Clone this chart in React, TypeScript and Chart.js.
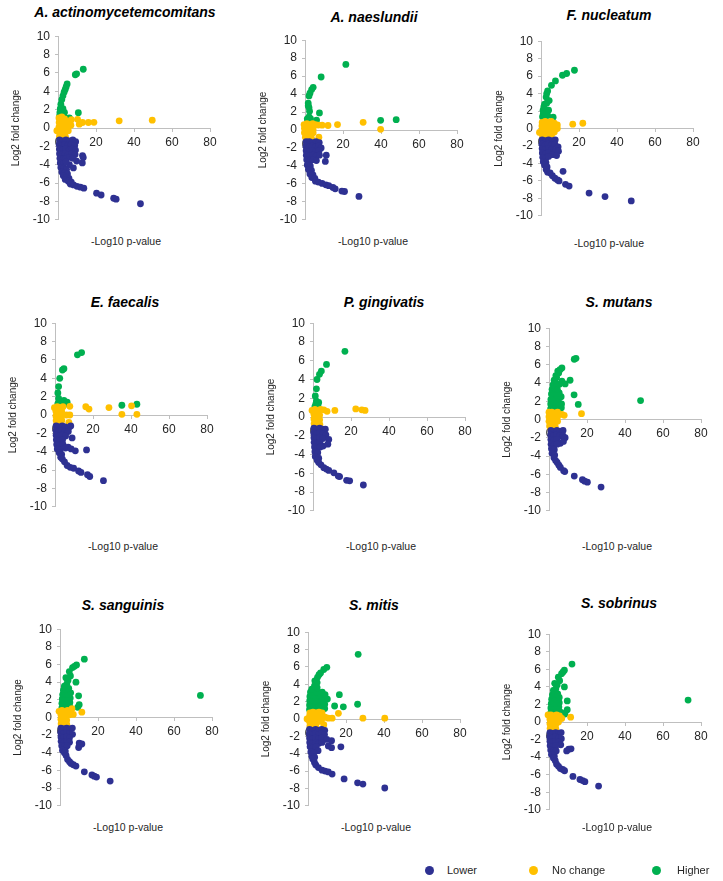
import React, { useEffect, useRef } from 'react';
import { Chart, registerables } from 'chart.js';

Chart.register(...registerables);

type Pt = [number, number];

// ---------- DATA ----------
const speciesNames = [
  'A. actinomycetemcomitans', 'A. naeslundii', 'F. nucleatum',
  'E. faecalis', 'P. gingivatis', 'S. mutans',
  'S. sanguinis', 'S. mitis', 'S. sobrinus',
];
const seriesNames = ['Lower', 'No change', 'Higher'];
const xTickValues = [0, 20, 40, 60, 80];
const yTickValues = [-10, -8, -6, -4, -2, 0, 2, 4, 6, 8, 10];
const xAxisTitle = '-Log10 p-value';
const yAxisTitle = 'Log2 fold change';

// A. actinomycetemcomitans
const aaLower: Pt[] = [
  [0.8,-1.3],[2.5,-1.4],[4.2,-1.3],[6,-1.4],[7.8,-1.3],[9.3,-1.5],
  [0.6,-1.8],[2,-1.9],[3.6,-1.8],[5.2,-1.9],[7,-1.8],[8.8,-1.9],
  [0.7,-2.3],[2.4,-2.4],[4,-2.3],[5.8,-2.4],[7.5,-2.3],[9.2,-2.4],
  [0.8,-2.8],[2.2,-2.9],[3.8,-2.8],[5.4,-2.9],[7.2,-2.8],[9,-2.9],
  [1,-3.3],[2.6,-3.4],[4.2,-3.3],[6,-3.2],[7.8,-3.3],
  [12.9,-3.0],[13.3,-3.2],[12.8,-3.8],[9.8,-3.6],[6,-4],[8.1,-4.35],
  [1.2,-3.8],[2.8,-3.9],[4.2,-3.7],[1.5,-4.3],[3,-4.4],[4.5,-4.5],[2,-4.8],[3.6,-4.9],[5,-5],
  [2.8,-5.2],[4.3,-5.4],[5.8,-5.5],[3.8,-5.6],[5.4,-5.8],[7,-5.9],[6.5,-6.1],[8.2,-6.2],
  [10,-6.35],[11.8,-6.45],[13.6,-6.55],
  [20.3,-7.1],[22.7,-7.3],[29.3,-7.65],[30.6,-7.75],[43.4,-8.25],
];
const aaNoChange: Pt[] = [
  [-0.6,-0.3],[0.5,1.1],[2,1.2],[3.5,1.0],[0.6,0.6],[2.2,0.6],[3.8,0.5],[5.4,0.7],[7,0.9],
  [0.5,0.1],[2,0.1],[3.6,0],[5.2,0.2],[6.8,0.3],[0.6,-0.4],[2.2,-0.4],[3.8,-0.5],[5.4,-0.3],
  [0.8,-0.9],[2.4,-0.9],[4,-1],[1.5,-1.2],
  [10.3,0.95],[11.2,0.42],[12.9,0.6],[16,0.6],[18.9,0.62],[32.2,0.78],[49.6,0.85],
];
const aaHigher: Pt[] = [
  [0.8,1.3],[1.8,1.2],[3,1.3],[6,1.1],[1,1.7],[2.2,1.6],[3.4,1.7],[1.2,2.1],[2.6,2.1],
  [1.5,2.6],[2,3.1],[2.6,3.5],[3.2,3.9],[3.8,4.2],[4.3,4.5],[4.8,4.8],
  [9.1,5.8],[9.8,5.9],[13.3,6.4],[10.7,1.66],
];

// A. naeslundii
const anLower: Pt[] = [
  [0.6,-1.3],[2.3,-1.3],[4,-1.4],[5.8,-1.3],[7.5,-1.4],
  [0.5,-1.8],[2.1,-1.9],[3.8,-1.8],[5.5,-1.9],[7.2,-1.8],[8.5,-2],
  [0.6,-2.3],[2.3,-2.4],[4,-2.3],[5.7,-2.4],[7.4,-2.3],
  [0.7,-2.8],[2.4,-2.9],[4.1,-2.8],[5.8,-2.9],[7.6,-2.8],[11.2,-2.8],
  [0.9,-3.3],[2.6,-3.4],[4.3,-3.3],[6,-3.4],[10.7,-3.5],
  [1.2,-3.9],[2.8,-4],[1.8,-4.4],[3.4,-4.5],[2.6,-4.9],[4.2,-5],[3.6,-5.3],[5.2,-5.4],
  [5.5,-5.7],[7,-5.8],[9,-5.95],[11,-6.1],[12.5,-6.2],[14.7,-6.4],[15.9,-6.55],
  [19.4,-6.8],[20.8,-6.85],[28.4,-7.4],
];
const anNoChange: Pt[] = [
  [-0.5,0.6],[1,0.7],[2.5,0.6],[4,0.7],[5.5,0.6],[7,0.55],[9,0.54],[12.1,0.5],[17.1,0.6],
  [30.6,0.86],[39.8,0.07],
  [-0.3,0.2],[1.2,0.1],[2.8,0.2],[4.3,0.1],[-0.3,-0.3],[1.2,-0.3],[2.8,-0.4],[4.3,-0.3],
  [0.2,-0.8],[1.8,-0.8],[3.4,-0.9],[7.3,-0.8],[1,-1.1],
];
const anHigher: Pt[] = [
  [1.2,1.25],[2.1,1.45],[2.9,1.26],[1.5,1.1],[6.1,1.1],[7.6,1.9],[2.4,2.1],[2.1,2.5],
  [1.7,3.0],[1.7,2.7],[2.1,3.8],[2.6,4.1],[3.5,4.5],[4.3,4.75],[8.5,5.9],[21.5,7.3],
  [39.8,1.08],[48,1.15],
];

// F. nucleatum
const fnLower: Pt[] = [
  [0.6,-1.3],[2.3,-1.4],[4,-1.3],[5.8,-1.4],[7.5,-1.3],
  [0.5,-1.8],[2.1,-1.9],[3.8,-1.8],[5.5,-1.9],[7.3,-1.8],[9,-2.1],
  [0.6,-2.3],[2.3,-2.4],[4,-2.3],[5.7,-2.4],[7.6,-2.5],[9.2,-2.6],
  [0.7,-2.8],[2.4,-2.9],[4.1,-2.8],[6,-3],[8.2,-3.1],
  [0.9,-3.3],[2.5,-3.4],[4,-3.2],
  [1.2,-3.8],[2.6,-3.9],[1.9,-4.2],[3.2,-4.4],[2.7,-4.7],[3.5,-5],[4.8,-5.1],[6,-5.4],
  [7.3,-5.7],[8.7,-5.9],[9.5,-6.0],[11.6,-4.9],[12.9,-6.4],[14.8,-6.6],
  [25.3,-7.4],[33.7,-7.8],[47.5,-8.3],
];
const fnNoChange: Pt[] = [
  [-0.8,-0.45],[0.6,0.7],[2.2,0.8],[3.8,0.7],[5.4,0.8],[7,0.6],[8.6,0.4],
  [0.5,0.3],[2,0.2],[3.6,0.3],[5.2,0.2],[6.8,0.1],[8.6,0],
  [0.6,-0.2],[2.2,-0.3],[3.8,-0.2],[5.4,-0.3],[7,-0.4],
  [0.8,-0.8],[2.4,-0.8],[4,-0.9],[5.6,-0.7],[1.5,-1.1],
  [16.7,0.5],[22,0.6],
];
const fnHigher: Pt[] = [
  [0.8,1.35],[2,1.2],[3.5,1.5],[6.4,1.3],[1.1,2.1],[2.5,2.0],[4,2.1],[1.5,2.5],[1.9,2.8],
  [3,2.9],[4.3,3.2],[2.7,3.6],[3.5,4.3],[3,4.0],[5.5,4.95],[7.6,5.45],[11.3,6.1],[13.5,6.3],
  [17.6,6.67],[1.2,1.7],[2.8,1.6],
];

// E. faecalis
const efLower: Pt[] = [
  [0.6,-1.2],[2.2,-1.3],[3.8,-1.2],[5.4,-1.3],[7.2,-1.4],[8.3,-1.2],
  [0.5,-1.7],[2,-1.8],[3.6,-1.7],[5.2,-1.8],[7,-1.8],
  [0.6,-2.2],[2.2,-2.3],[3.8,-2.2],[5.6,-2.3],[9,-2.5],
  [0.7,-2.7],[2.3,-2.8],[4,-2.7],[0.9,-3.2],[2.5,-3.3],[4.2,-3.2],[6.9,-3.5],[10.7,-3.9],
  [16.6,-3.8],[5.5,-3.6],[8.5,-3.7],
  [1.2,-3.7],[2.6,-3.8],[2.2,-4.1],[3.5,-4.3],[3,-4.6],[3.9,-4.8],[5,-5.1],[6.4,-5.5],
  [8,-5.7],[9.8,-5.8],[12.4,-6.1],[13.7,-6.25],[17.1,-6.5],[18.3,-6.7],[25.5,-7.15],
];
const efNoChange: Pt[] = [
  [-0.3,0.8],[1.2,0.9],[2.7,0.8],[4.2,0.9],[7.8,0.95],[0.5,0.4],[2,0.3],[3.5,0.4],
  [0.5,-0.1],[2,0],[3.5,-0.1],[6.1,0],[7.8,0],[0.6,-0.6],[2.1,-0.5],[3.6,-0.6],[1,-1],
  [7.3,-0.8],[16.2,0.9],[17.9,0.64],[28.4,0.81],[40.3,1.0],[35.2,0.07],[43.1,0.07],
];
const efHigher: Pt[] = [
  [1.5,1.25],[3.9,1.2],[4.7,1.6],[6.4,1.4],[5.5,1.2],[2.5,1.5],[1.9,1.8],[1.5,2.4],
  [1.9,3.1],[2.5,4.0],[3.9,4.9],[4.7,5.05],[11.8,6.55],[14,6.8],[35.2,1.06],[43.1,1.17],
];

// P. gingivatis
const pgLower: Pt[] = [
  [0.5,-1.2],[2,-1.3],[3.5,-1.2],[5,-1.3],[6.5,-1.3],
  [0.4,-1.7],[1.9,-1.8],[3.4,-1.7],[5,-1.8],[6.8,-1.9],
  [0.5,-2.2],[2,-2.3],[3.5,-2.2],[5.2,-2.3],[8.3,-2.4],
  [0.6,-2.7],[2.1,-2.8],[3.6,-2.7],[5.3,-3.1],[7.8,-2.9],
  [0.8,-3.2],[2.3,-3.3],[3.8,-3.2],
  [1,-3.7],[2.5,-3.8],[1.2,-4.2],[3,-4.4],[2.2,-4.6],[3,-4.85],[4.2,-5.1],[5.7,-5.4],
  [7,-5.55],[8.3,-5.7],[11,-5.95],[13.3,-6.3],[14,-6.35],[17.7,-6.75],[19.3,-6.8],[26.5,-7.25],
];
const pgNoChange: Pt[] = [
  [-0.5,0.7],[1,0.8],[2.5,0.7],[4,0.8],[5.7,0.76],[7.4,0.6],[11.5,0.7],[22.5,0.86],
  [25.7,0.76],[27.4,0.7],
  [0.5,0.3],[2,0.3],[3.5,0.2],[0.5,-0.2],[2,-0.2],[3.5,-0.3],[0.6,-0.7],[2.1,-0.7],
  [3.6,-0.8],[1,-1.1],[2.6,-1.1],
];
const pgHigher: Pt[] = [
  [1,1.1],[2.1,1.2],[3,1.55],[1.8,1.7],[1.2,2.25],[1.5,1.4],[1.8,3.0],[2.1,4.0],[3.4,4.55],
  [4.4,4.9],[7.1,5.6],[16.8,7.0],[2.6,1.2],
];

// S. mutans
const smLower: Pt[] = [
  [1,-1.2],[2.6,-1.3],[4.2,-1.2],[5.8,-1.3],[7.4,-1.2],
  [0.9,-1.7],[2.5,-1.8],[4.1,-1.7],[5.7,-1.8],[7.4,-1.8],[8.5,-2],
  [1,-2.2],[2.6,-2.3],[4.2,-2.2],[6,-2.6],[7.6,-2.4],
  [1.1,-2.7],[2.7,-2.8],[4.3,-2.7],[1.3,-3.2],[2.8,-3.3],
  [1.6,-3.7],[3,-3.9],[2.6,-4.2],[3.5,-4.5],[4.3,-4.7],[5.2,-5],[6,-5.25],[7.7,-5.6],
  [8.3,-5.7],[13.3,-6.2],[17.6,-6.6],[18.8,-6.75],[20.2,-6.86],[27.4,-7.4],
];
const smNoChange: Pt[] = [
  [0,0.8],[1.5,0.8],[3,0.7],[4.5,0.8],[6.8,0.57],[8,0.46],[17.1,0.64],[0,0.3],[1.5,0.3],
  [3,0.2],[4.5,0.3],[0,-0.2],[1.5,-0.2],[3,-0.3],[4.5,-0.2],[0.3,-0.7],[1.8,-0.7],
  [3.3,-0.8],[1,-1.1],[2.5,-1.1],
];
const smHigher: Pt[] = [
  [0.9,1.2],[2.3,1.1],[3.7,1.2],[5.1,1.1],[6.5,1.3],
  [0.9,1.7],[2.3,1.8],[3.7,1.7],[5.1,1.8],[6.6,1.7],
  [1,2.2],[2.4,2.3],[3.8,2.2],[5.2,2.3],[6.4,2.5],
  [1.3,2.8],[2.6,2.9],[4,2.8],[5.4,2.9],
  [1.6,3.3],[3,3.4],[4.4,3.3],[5.5,3.86],
  [2.1,3.8],[3.4,4.0],[2.7,4.3],[4,4.6],[3.6,4.8],[5.1,5.1],[4.6,5.3],[5.8,5.45],[6.8,5.65],
  [6.8,4.2],[8.5,3.9],[11.1,4.3],[13.2,2.7],[15.4,1.65],[13.3,6.6],[14.2,6.7],[48.2,2.07],
];

// S. sanguinis
const ssLower: Pt[] = [
  [0.5,-1.2],[2,-1.3],[3.5,-1.2],[5,-1.3],[6.5,-1.2],
  [0.4,-1.7],[1.9,-1.8],[3.4,-1.7],[5,-1.8],[6.6,-1.9],
  [0.5,-2.2],[2,-2.3],[3.5,-2.2],[5,-2.3],
  [0.6,-2.7],[2.1,-2.8],[3.6,-2.7],[5,-2.8],[10.1,-2.9],[11.5,-3.0],[9.8,-3.4],[10.4,-3.1],
  [0.9,-3.2],[2.4,-3.3],[3.8,-3.2],
  [1.3,-3.7],[2.8,-3.8],[2.3,-4.0],[3.2,-4.3],[4,-4.75],[5,-5],[5.8,-5.2],[7,-5.35],
  [8.4,-5.5],[12.8,-6.15],[16.8,-6.5],[18,-6.65],[19.2,-6.75],[26.4,-7.2],
];
const ssNoChange: Pt[] = [
  [-0.5,0.7],[1,0.8],[2.5,0.7],[4,0.8],[6.3,1.0],[0.5,0.3],[2,0.3],[3.5,0.2],[5,0.3],
  [7,0.35],[11.5,0.6],[0.5,-0.2],[2,-0.2],[3.5,-0.3],[0.6,-0.7],[2.1,-0.7],[3.6,-0.8],
  [1,-1.1],[2.5,-1.1],[5.5,0.6],
];
const ssHigher: Pt[] = [
  [1,1.1],[2.4,1.2],[3.8,1.1],[5.2,1.2],
  [1,1.6],[2.4,1.7],[3.8,1.6],[5.2,1.7],[9.3,1.15],[10.1,1.45],
  [1.2,2.1],[2.6,2.2],[4,2.1],[5.4,2.2],[9.8,2.45],
  [1.4,2.6],[2.8,2.7],[4.2,2.6],[5.6,2.8],
  [1.8,3.1],[3.2,3.2],[4.6,3.3],
  [2.3,3.55],[3.6,3.8],[3.1,4.5],[4.2,4.2],[4.9,5.2],[5.5,4.7],[6.6,5.65],[7.6,5.8],
  [8.7,5.95],[8.4,4.0],[12.8,6.6],[73.9,2.5],
];

// S. mitis
const miLower: Pt[] = [
  [0.8,-1.2],[2.4,-1.3],[4,-1.2],[5.6,-1.3],[7.2,-1.2],[8.8,-1.3],
  [0.7,-1.7],[2.3,-1.8],[3.9,-1.7],[5.5,-1.8],[7.1,-1.7],[8.7,-1.8],
  [0.8,-2.2],[2.4,-2.3],[4,-2.2],[5.6,-2.3],[7.2,-2.2],[9.9,-2.35],[12.4,-2.5],
  [0.9,-2.7],[2.5,-2.8],[4.1,-2.7],[5.7,-2.8],[7.4,-2.7],[10.7,-3.1],[12.4,-3.3],[17.3,-3.2],
  [1.1,-3.2],[2.7,-3.3],[4.3,-3.2],[5.3,-3.65],
  [1.5,-3.8],[3,-3.9],[2,-4.3],[3.5,-4.4],[2.5,-4.6],[3.4,-5],[4.1,-5.3],[5.5,-5.6],
  [7.4,-5.9],[9,-6],[10.7,-6.1],[12.7,-6.35],[19,-6.9],[26.1,-7.35],[28.9,-7.5],[40.4,-7.95],
];
const miNoChange: Pt[] = [
  [-0.5,0],[1,0.7],[2.6,0.8],[4.2,0.7],[5.8,0.8],[7.4,0.7],[0.8,0.3],[2.4,0.2],[4,0.3],
  [5.6,0.2],[7.2,0.1],[9,0.2],[10.7,0.1],[12.7,0.1],[0.8,-0.3],[2.4,-0.3],[4,-0.4],
  [5.6,-0.3],[7,-0.2],[1,-0.8],[2.6,-0.8],[4.2,-0.9],[8.3,-0.65],[1.8,-1.1],[16,0.65],
  [28.9,0.1],[40.4,0.1],
];
const miHigher: Pt[] = [
  [0.8,1.1],[2.4,1.2],[4,1.1],[5.6,1.2],[7.2,1.1],[8.8,1.2],
  [0.8,1.6],[2.4,1.7],[4,1.6],[5.6,1.7],[7.2,1.6],[8.8,1.7],
  [0.9,2.1],[2.5,2.2],[4.1,2.1],[5.7,2.2],[7.3,2.1],[10.2,2.3],
  [1,2.6],[2.6,2.7],[4.2,2.6],[5.8,2.7],[7.4,2.6],[9,2.8],
  [1.3,3.1],[2.8,3.2],[4.4,3.1],[6,3.0],[7.5,3.1],
  [2,3.45],[3.4,3.8],[4.8,3.6],[3.6,4.4],[4.8,4.2],[5,4.8],[5.8,5.1],[6.6,5.3],[8.3,5.7],
  [9.9,5.95],[16.5,2.8],[14,1.5],[18.6,1.4],[26.1,1.7],[26.4,7.45],
];

// S. sobrinus
const soLower: Pt[] = [
  [0.5,-1.2],[2,-1.3],[3.5,-1.2],[5,-1.3],[6.4,-1.2],
  [0.4,-1.7],[1.9,-1.8],[3.4,-1.7],[5,-1.8],[6.5,-1.9],
  [0.5,-2.2],[2,-2.3],[3.5,-2.2],[5,-2.3],[6.2,-2.6],
  [0.6,-2.7],[2.1,-2.8],[3.6,-2.7],[10.4,-3.1],[11.6,-3.05],[9.3,-3.3],
  [0.9,-3.2],[2.4,-3.3],[3.8,-3.3],
  [1.3,-3.7],[2.8,-3.9],[2.3,-4.1],[3.3,-4.4],[4,-4.8],[5,-5.05],[6,-5.3],[7.2,-5.4],
  [8.2,-5.55],[12.6,-6.2],[16.3,-6.55],[17.7,-6.67],[18.9,-6.8],[26.1,-7.3],
];
const soNoChange: Pt[] = [
  [-0.5,0.8],[1,0.8],[2.5,0.7],[4,0.8],[5.5,0.7],[0.5,0.3],[2,0.3],[3.5,0.2],[6.7,0.4],
  [11.4,0.55],[0.5,-0.2],[2,-0.2],[3.5,-0.3],[5,0],[0.6,-0.7],[2.1,-0.7],[3.6,-0.8],
  [1,-1.1],[2.5,-1.1],
];
const soHigher: Pt[] = [
  [1,1.1],[2.4,1.2],[3.8,1.1],[5.2,1.2],[6.4,1.1],
  [1,1.6],[2.4,1.7],[3.8,1.6],[5.2,1.7],[9.6,1.4],[8.4,0.9],
  [1.2,2.1],[2.6,2.2],[4,2.1],[5.4,2.2],[9.6,2.4],
  [1.4,2.6],[2.8,2.7],[4.2,2.6],[5.4,2.8],
  [1.8,3.1],[3.2,3.2],[4.6,3.2],
  [2.3,3.6],[3.6,3.8],[3,4.4],[4.3,4.2],[4.9,5.1],[5.6,4.7],[6.6,5.5],[7.4,5.7],[8.1,5.9],
  [8.1,4.0],[12.1,6.6],[73.2,2.5],
];

const panelSeries: Pt[][][] = [
  [aaLower, aaNoChange, aaHigher],
  [anLower, anNoChange, anHigher],
  [fnLower, fnNoChange, fnHigher],
  [efLower, efNoChange, efHigher],
  [pgLower, pgNoChange, pgHigher],
  [smLower, smNoChange, smHigher],
  [ssLower, ssNoChange, ssHigher],
  [miLower, miNoChange, miHigher],
  [soLower, soNoChange, soHigher],
];

// ---------- LAYOUT / STYLE ----------
const seriesColors = ['#2E3192', '#FFC000', '#00B050'];
const FONT = "'Liberation Sans', Arial, Helvetica, sans-serif";
const AXIS_COLOR = '#BFBFBF';
const TEXT_COLOR = '#262626';
const Y_BOX = 48;
const PAD_T = 10, PAD_R = 14, PAD_B = 10;
const PLOT_W = 152;

// axisX: pixel of x=0; y10/yM10: pixels of +10/-10; title centre; x-title centre y
const layout = [
  { axisX: 58, y10: 34, yM10: 222, tx: 125, ty: 12, xty: 241 },
  { axisX: 305, y10: 38, yM10: 222, tx: 374, ty: 17, xty: 241 },
  { axisX: 541, y10: 39, yM10: 218, tx: 609, ty: 15, xty: 243 },
  { axisX: 55, y10: 321, yM10: 509, tx: 125, ty: 302, xty: 546 },
  { axisX: 313, y10: 321, yM10: 513, tx: 384, ty: 302, xty: 546 },
  { axisX: 549, y10: 326, yM10: 513, tx: 619, ty: 302, xty: 546 },
  { axisX: 60, y10: 627, yM10: 808, tx: 123, ty: 605, xty: 827 },
  { axisX: 308, y10: 630, yM10: 808, tx: 374, ty: 605, xty: 827 },
  { axisX: 549, y10: 632, yM10: 812, tx: 619, ty: 603, xty: 827 },
];

function Panel({ index }: { index: number }) {
  const ref = useRef<HTMLCanvasElement>(null);
  const g = layout[index];
  const w = Y_BOX + PLOT_W + PAD_R;
  const h = PAD_T + (g.yM10 - g.y10) + PAD_B;

  useEffect(() => {
    if (!ref.current) return;
    const series = panelSeries[index];
    const chart = new Chart(ref.current, {
      type: 'scatter',
      data: {
        datasets: series.map((pts, k) => ({
          label: seriesNames[k],
          data: pts.map(([x, y]) => ({ x, y })),
          backgroundColor: seriesColors[k],
          borderColor: seriesColors[k],
          pointRadius: 3.4,
          pointBorderWidth: 0,
          pointHoverRadius: 3.4,
          clip: false as any,
        })),
      },
      options: {
        animation: false,
        responsive: false,
        events: [],
        layout: { padding: { left: 0, top: PAD_T, right: PAD_R, bottom: PAD_B } },
        plugins: {
          legend: { display: false },
          tooltip: { enabled: false },
          title: { display: false },
        },
        scales: {
          x: {
            type: 'linear',
            position: { y: 0 } as any,
            min: 0,
            max: 80,
            afterBuildTicks: (s: any) => { s.ticks = xTickValues.map((v) => ({ value: v })); },
            ticks: {
              color: TEXT_COLOR,
              padding: 4,
              font: { family: FONT, size: 12 },
            },
            grid: { display: true, drawOnChartArea: false, drawTicks: true, tickLength: 3, color: AXIS_COLOR },
            border: { display: true, color: AXIS_COLOR, width: 1 },
            afterFit: (s: any) => { s.height = 0; },
          },
          y: {
            type: 'linear',
            position: 'left',
            min: -10,
            max: 10,
            afterBuildTicks: (s: any) => { s.ticks = yTickValues.map((v) => ({ value: v })); },
            ticks: {
              color: TEXT_COLOR,
              padding: 5,
              font: { family: FONT, size: 12 },
            },
            grid: { display: true, drawOnChartArea: false, drawTicks: true, tickLength: 3, color: AXIS_COLOR },
            border: { display: true, color: AXIS_COLOR, width: 1 },
            title: {
              display: true,
              text: yAxisTitle,
              color: TEXT_COLOR,
              padding: 0,
              font: { family: FONT, size: 10 },
            },
            afterFit: (s: any) => { s.width = Y_BOX; },
          },
        },
      },
    });
    return () => chart.destroy();
  }, [index]);

  return (
    <>
      <canvas
        ref={ref}
        width={w}
        height={h}
        style={{ position: 'absolute', left: g.axisX - Y_BOX, top: g.y10 - PAD_T, width: w, height: h }}
      />
      <div
        style={{
          position: 'absolute', left: g.tx, top: g.ty, transform: 'translate(-50%, -50%)',
          font: `italic bold 14px ${FONT}`, color: '#000', whiteSpace: 'nowrap',
        }}
      >
        {speciesNames[index]}
      </div>
      <div
        style={{
          position: 'absolute', left: g.axisX + 68, top: g.xty, transform: 'translate(-50%, -50%)',
          font: `10.5px ${FONT}`, color: TEXT_COLOR, whiteSpace: 'nowrap',
        }}
      >
        {xAxisTitle}
      </div>
    </>
  );
}

const legendPos = [
  { dot: 429, text: 447 },
  { dot: 533, text: 552 },
  { dot: 656, text: 677 },
];

export default function App() {
  return (
    <div style={{ position: 'absolute', left: 0, top: 0, width: 723, height: 881, background: '#fff', overflow: 'hidden' }}>
      {speciesNames.map((_, i) => <Panel key={i} index={i} />)}
      {seriesNames.map((name, k) => (
        <React.Fragment key={name}>
          <div style={{
            position: 'absolute', left: legendPos[k].dot - 4.5, top: 870 - 4.5, width: 9, height: 9,
            borderRadius: '50%', background: seriesColors[k],
          }} />
          <div style={{
            position: 'absolute', left: legendPos[k].text, top: 870, transform: 'translateY(-50%)',
            font: `11px ${FONT}`, color: TEXT_COLOR, whiteSpace: 'nowrap',
          }}>{name}</div>
        </React.Fragment>
      ))}
    </div>
  );
}
